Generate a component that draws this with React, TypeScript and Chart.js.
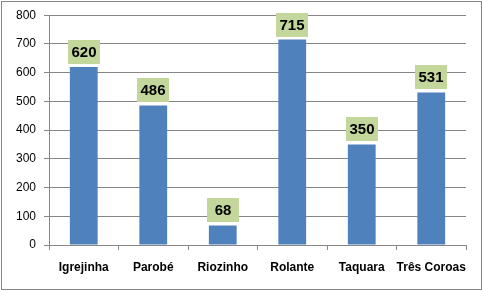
import React, { useEffect, useRef } from "react";
import { Chart, registerables } from "chart.js";

Chart.register(...registerables);

const categories = ["Igrejinha", "Parobé", "Riozinho", "Rolante", "Taquara", "Três Coroas"];
const values = [620, 486, 68, 715, 350, 531];
const yMin = 0;
const yMax = 800;
const yStep = 100;

const labelPlugin = {
  id: "boxLabels",
  afterDatasetsDraw(chart: any) {
    const ctx = chart.ctx;
    const meta = chart.getDatasetMeta(0);
    ctx.save();
    ctx.font = "bold 15px 'Liberation Sans', Arial, sans-serif";
    ctx.textAlign = "center";
    ctx.textBaseline = "middle";
    meta.data.forEach((bar: any, i: number) => {
      const text = String(values[i]);
      const w = 32;
      const h = 24;
      const x = Math.round(bar.x - w / 2);
      const y = Math.round(bar.y - 3 - h);
      ctx.fillStyle = "#C3D69B";
      ctx.fillRect(x, y, w, h);
      ctx.fillStyle = "#000000";
      ctx.fillText(text, x + w / 2, y + h / 2 + 1);
    });
    ctx.restore();
  },
};

const borderPlugin = {
  id: "outerBorder",
  beforeDraw(chart: any) {
    const ctx = chart.ctx;
    ctx.save();
    ctx.fillStyle = "#ffffff";
    ctx.fillRect(0, 0, chart.width, chart.height);
    ctx.strokeStyle = "#868686";
    ctx.lineWidth = 1;
    ctx.strokeRect(1.5, 1.5, chart.width - 3, chart.height - 3);
    ctx.restore();
  },
};

export default function App() {
  const ref = useRef<HTMLCanvasElement>(null);
  useEffect(() => {
    const chart = new Chart(ref.current!, {
      type: "bar",
      data: {
        labels: categories,
        datasets: [
          {
            data: values,
            backgroundColor: "#4F81BD",
            borderWidth: 0,
            barPercentage: 0.4,
            categoryPercentage: 1,
          },
        ],
      },
      options: {
        animation: false,
        responsive: false,
        layout: { padding: { left: 0, top: 15, right: 17, bottom: 0 } },
        plugins: { legend: { display: false }, tooltip: { enabled: false } },
        scales: {
          x: {
            grid: {
              offset: true,
              drawOnChartArea: false,
              drawTicks: true,
              tickLength: 5,
              color: "#868686",
            },
            border: { color: "#868686" },
            ticks: {
              padding: 10,
              maxRotation: 0,
              minRotation: 0,
              autoSkip: false,
              color: "#000000",
              font: { family: "'Liberation Sans', Arial, sans-serif", size: 12, weight: "bold" },
            },
            afterFit(scale: any) {
              scale.height = 46;
            },
          },
          y: {
            min: yMin,
            max: yMax,
            ticks: {
              stepSize: yStep,
              padding: 8,
              color: "#000000",
              font: { family: "'Liberation Sans', Arial, sans-serif", size: 12 },
            },
            grid: { color: "#868686", tickLength: 5 },
            border: { color: "#868686" },
            afterFit(scale: any) {
              scale.width = 49;
            },
          },
        },
      },
      plugins: [borderPlugin, labelPlugin],
    });
    return () => chart.destroy();
  }, []);
  return (
    <div style={{ position: "fixed", left: 0, top: 0, width: 483, height: 291 }}>
      <canvas ref={ref} width={483} height={291} style={{ width: 483, height: 291, display: "block" }} />
    </div>
  );
}
